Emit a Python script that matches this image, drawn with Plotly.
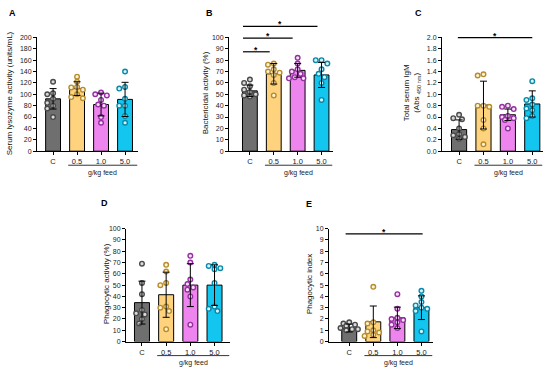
import plotly.graph_objects as go
import numpy as np

W, H = 550, 374
FONT = "Liberation Sans, Arial, sans-serif"

groups = ["C", "0.5", "1.0", "5.0"]
bar_colors = ["#6f6f6f", "#FFD37E", "#EE84EE", "#12C6F0"]
edge_colors = ["#4a4a4a", "#B68C2C", "#9430A0", "#0A88A8"]
fill_colors = ["#d9d9d9", "#fff3d6", "#fbe0fb", "#d4f4fc"]

# Panel A - Serum lysozyme activity (units/mL)
a_mean = [92, 110, 82, 91]
a_sd = [18, 12, 20, 30]
a_pts = [[122, 102, 100, 92, 85, 80, 75, 60],
         [131, 122, 113, 112, 108, 100, 95, 93],
         [103, 100, 98, 90, 82, 80, 60, 50],
         [140, 113, 110, 92, 80, 80, 62, 50]]

# Panel B - Bactericidal activity (%)
b_mean = [53, 68, 71, 67]
b_sd = [5, 9, 6, 11]
b_pts = [[63, 60, 57, 54, 52, 50, 49, 48],
         [77, 76, 72, 70, 69, 67, 60, 49],
         [82, 77, 72, 70, 68, 65, 64, 64],
         [80, 80, 77, 72, 68, 65, 60, 45]]

# Panel C - Total serum IgM (Abs 450 nm)
c_mean = [0.38, 0.81, 0.64, 0.83]
c_sd = [0.17, 0.42, 0.10, 0.23]
c_pts = [[0.64, 0.58, 0.56, 0.40, 0.30, 0.25, 0.22, 0.28],
         [1.35, 1.33, 0.78, 0.80, 0.80, 0.55, 0.40, 0.12],
         [0.80, 0.78, 0.74, 0.62, 0.60, 0.58, 0.55, 0.40],
         [1.23, 0.93, 0.90, 0.82, 0.75, 0.72, 0.62, 0.58]]

# Panel D - Phagocytic activity (%)
d_mean = [34.5, 41.5, 50, 50]
d_sd = [19, 20, 19, 18]
d_pts = [[69, 52, 42, 28, 25, 24, 20, 16],
         [68, 62, 52, 50, 31, 30, 27, 11],
         [76, 70, 55, 51, 48, 46, 40, 15],
         [68, 67, 65, 64, 52, 31, 29, 27]]

# Panel E - Phagocytic index
e_mean = [1.2, 1.75, 2.1, 3.0]
e_sd = [0.35, 1.4, 0.95, 1.05]
e_pts = [[1.7, 1.6, 1.5, 1.4, 1.2, 1.1, 1.1, 1.0],
         [4.85, 1.7, 1.6, 1.0, 0.9, 0.8, 0.6, 0.5],
         [4.2, 2.9, 2.1, 2.0, 1.9, 1.7, 1.5, 1.2],
         [4.5, 4.0, 3.5, 3.2, 3.0, 2.9, 2.7, 0.9]]

# layout geometry (pixels)
panels = [
    dict(name="A", mean=a_mean, sd=a_sd, pts=a_pts, xpx=(37, 138), ypx=(34, 150),
         xr=[-0.67, 3.54], yr=[0, 200], dt=20, fmt="",
         title="Serum lysozyme activity (units/mL)", tx=9, label=(12, 9)),
    dict(name="B", mean=b_mean, sd=b_sd, pts=b_pts, xpx=(229, 333), ypx=(34, 150),
         xr=[-0.875, 3.48], yr=[0, 100], dt=10, fmt="",
         title="Bactericidal activity (%)", tx=205, label=(209, 9)),
    dict(name="C", mean=c_mean, sd=c_sd, pts=c_pts, xpx=(442, 543), ypx=(34, 150),
         xr=[-0.70, 3.44], yr=[0, 2.0], dt=0.2, fmt=".1f",
         title="Total serum IgM<br>(Abs <sub>450 nm</sub>)", tx=412, label=(418, 9)),
    dict(name="D", mean=d_mean, sd=d_sd, pts=d_pts, xpx=(126, 230), ypx=(229, 344),
         xr=[-0.66, 3.64], yr=[0, 100], dt=10, fmt="",
         title="Phagocytic activity (%)", tx=106, label=(104, 203)),
    dict(name="E", mean=e_mean, sd=e_sd, pts=e_pts, xpx=(329, 433), ypx=(229, 344),
         xr=[-0.84, 3.48], yr=[0, 10], dt=1, fmt="",
         title="Phagocytic index", tx=309, label=(309, 204)),
]

# significance brackets: (panel index, x0, x1, y_px)
sig = [(1, -0.29, 2.83, 22.7), (1, -0.29, 1.79, 34.7), (1, -0.29, 0.83, 48.7),
       (2, -0.05, 3.0, 34.3), (4, -0.15, 3.05, 234.3)]


def px2x(p):
    return p / W


def px2y(p):
    return 1 - p / H


def swarm(vals, ppu_y, ppu_x, d=5.2, step=2.9, kmax=3):
    order = np.argsort(vals)[::-1]
    placed = []
    offs = np.zeros(len(vals))
    cands = [0.0]
    for k in range(1, kmax + 1):
        cands += [-k * step, k * step]
    for i in order:
        y = vals[i] * ppu_y
        best, best_gap = None, -1
        for c in cands:
            gap = min([np.hypot(c - xo, y - yo) for xo, yo in placed] or [99])
            if gap >= d:
                best = c
                break
            if gap > best_gap:
                best_gap, best = gap, c
        placed.append((best, y))
        offs[i] = best / ppu_x
    return offs


fig = go.Figure()
shapes = []
annotations = []

for k, p in enumerate(panels):
    n = "" if k == 0 else str(k + 1)
    xa, ya = "x" + n, "y" + n
    xw = p["xpx"][1] - p["xpx"][0]
    yh = p["ypx"][1] - p["ypx"][0]
    ppu_x = xw / (p["xr"][1] - p["xr"][0])
    ppu_y = yh / (p["yr"][1] - p["yr"][0])

    fig.add_trace(go.Bar(x=list(range(4)), y=p["mean"], width=0.62,
                         marker=dict(color=bar_colors, line=dict(color="black", width=1)),
                         xaxis=xa, yaxis=ya, showlegend=False))
    for g in range(4):
        offs = swarm(np.array(p["pts"][g], dtype=float), ppu_y, ppu_x)
        fig.add_trace(go.Scatter(x=g + offs, y=p["pts"][g], mode="markers",
                                 marker=dict(size=4.6, color=fill_colors[g],
                                             line=dict(color=edge_colors[g], width=1.4)),
                                 xaxis=xa, yaxis=ya, showlegend=False, cliponaxis=False))
    fig.add_trace(go.Scatter(x=list(range(4)), y=p["mean"], mode="markers",
                             marker=dict(size=0.1, color="rgba(0,0,0,0)"),
                             error_y=dict(type="data", array=p["sd"], visible=True,
                                          color="black", thickness=1, width=3.5),
                             xaxis=xa, yaxis=ya, showlegend=False))

    axx = dict(domain=[px2x(p["xpx"][0]), px2x(p["xpx"][1])], range=p["xr"], anchor=ya,
               tickmode="array", tickvals=list(range(4)), ticktext=groups,
               showline=True, linecolor="black", linewidth=1, ticks="outside", ticklen=3,
               tickwidth=1, tickcolor="black", showgrid=False, zeroline=False,
               tickfont=dict(family=FONT, size=7.5, color="#222"))
    axy = dict(domain=[px2y(p["ypx"][1]), px2y(p["ypx"][0])], range=p["yr"], anchor=xa,
               tickmode="linear", tick0=0, dtick=p["dt"], tickformat=p["fmt"],
               showline=True, linecolor="black", linewidth=1, ticks="outside", ticklen=3,
               tickwidth=1, tickcolor="black", showgrid=False, zeroline=False,
               tickfont=dict(family=FONT, size=7, color="#222"))
    fig.update_layout(**{"xaxis" + n: axx, "yaxis" + n: axy})

    # group underline and label
    uy = p["ypx"][1] + 14.3
    x1 = p["xr"][1] - 0.03
    shapes.append(dict(type="line", xref=xa, yref="paper", x0=0.63, x1=x1,
                       y0=px2y(uy), y1=px2y(uy), line=dict(color="black", width=0.8)))
    annotations.append(dict(text="g/kg feed", xref=xa, yref="paper", x=(0.63 + x1) / 2,
                            y=px2y(uy + 8), showarrow=False, xanchor="center", yanchor="middle",
                            font=dict(family=FONT, size=7, color="#222")))
    # y title
    annotations.append(dict(text=p["title"], xref="paper", yref="paper", x=px2x(p["tx"]),
                            y=px2y((p["ypx"][0] + p["ypx"][1]) / 2 - 1), textangle=-90,
                            showarrow=False, xanchor="center", yanchor="middle",
                            font=dict(family=FONT, size=8, color="#111")))
    # panel label
    annotations.append(dict(text="<b>" + p["name"] + "</b>", xref="paper", yref="paper",
                            x=px2x(p["label"][0]), y=px2y(p["label"][1]), showarrow=False,
                            xanchor="center", yanchor="middle",
                            font=dict(family=FONT, size=9, color="black")))

for (pi, x0, x1, ypx) in sig:
    n = "" if pi == 0 else str(pi + 1)
    xa = "x" + n
    shapes.append(dict(type="line", xref=xa, yref="paper", x0=x0, x1=x1,
                       y0=px2y(ypx), y1=px2y(ypx), line=dict(color="black", width=1.2)))
    annotations.append(dict(text="<b>*</b>", xref=xa, yref="paper", x=(x0 + x1) / 2,
                            y=px2y(ypx - 2), showarrow=False, xanchor="center",
                            yanchor="middle", font=dict(family=FONT, size=8.5, color="black")))

fig.update_layout(width=W, height=H, autosize=False,
                  margin=dict(l=0, r=0, t=0, b=0, pad=0),
                  paper_bgcolor="white", plot_bgcolor="white",
                  shapes=shapes, annotations=annotations, bargap=0)

fig.write_html("out.html", config={"displayModeBar": False, "staticPlot": True},
               post_script="document.body.style.margin='0';document.body.style.overflow='hidden';")
